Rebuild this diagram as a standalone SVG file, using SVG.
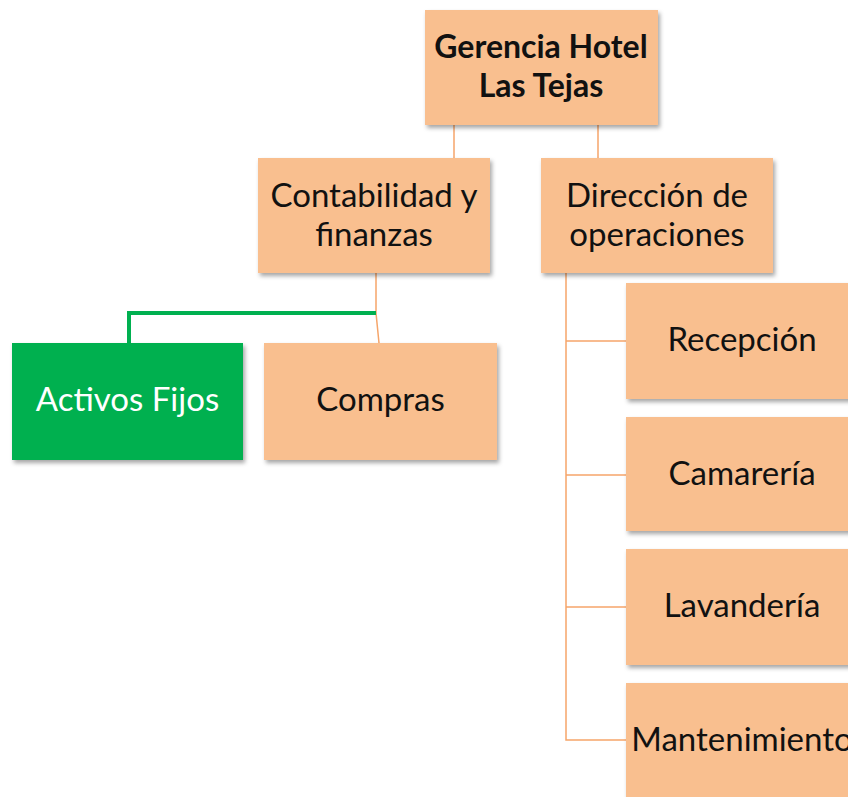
<svg xmlns="http://www.w3.org/2000/svg" width="848" height="797" viewBox="0 0 848 797">
<defs>
<filter id="sh" x="-10%" y="-10%" width="130%" height="130%">
<feDropShadow dx="2" dy="3" stdDeviation="2" flood-color="#000" flood-opacity="0.35"/>
</filter>
<style>
.box{fill:#F9BF8F;filter:url(#sh)}
.green{fill:#00B050;filter:url(#sh)}
.t{font-family:Lato,"Open Sans",sans-serif;font-size:33px;fill:#111;text-anchor:middle}
.tb{font-weight:bold;font-size:32px}
.tw{fill:#fff}
.c{fill:none;stroke:#F6A56A;stroke-width:1.5}
.cg{fill:none;stroke:#00B050;stroke-width:4}
</style>
</defs>
<rect width="848" height="797" fill="#fff"/>
<g id="connectors">
<line class="c" x1="454" y1="125" x2="454" y2="158"/>
<line class="c" x1="598" y1="125" x2="598" y2="158"/>
<polyline class="c" points="376,273 376,313 379,343"/>
<polyline class="cg" points="376,313 129,313 129,343"/>
<polyline class="c" points="566,273 566,740 626,740"/>
<line class="c" x1="566" y1="341" x2="626" y2="341"/>
<line class="c" x1="566" y1="475" x2="626" y2="475"/>
<line class="c" x1="566" y1="607" x2="626" y2="607"/>
</g>
<g id="gerencia">
<rect class="box" x="425" y="10" width="233" height="115"/>
<text class="t tb" x="541" y="58">Gerencia Hotel</text>
<text class="t tb" x="541" y="97">Las Tejas</text>
</g>
<g id="contabilidad">
<rect class="box" x="258" y="158" width="232" height="115"/>
<text class="t" x="374" y="207">Contabilidad y</text>
<text class="t" x="374" y="246">finanzas</text>
</g>
<g id="direccion">
<rect class="box" x="541" y="158" width="232" height="115"/>
<text class="t" x="657" y="207">Dirección de</text>
<text class="t" x="657" y="246">operaciones</text>
</g>
<g id="activos">
<rect class="green" x="12" y="343" width="231" height="117"/>
<text class="t tw" x="127.5" y="411">Activos Fijos</text>
</g>
<g id="compras">
<rect class="box" x="264" y="343" width="233" height="117"/>
<text class="t" x="380.5" y="411">Compras</text>
</g>
<g id="recepcion">
<rect class="box" x="626" y="283" width="232" height="116"/>
<text class="t" x="742" y="351">Recepción</text>
</g>
<g id="camareria">
<rect class="box" x="626" y="417" width="232" height="114"/>
<text class="t" x="742" y="485">Camarería</text>
</g>
<g id="lavanderia">
<rect class="box" x="626" y="549" width="232" height="116"/>
<text class="t" x="742" y="617">Lavandería</text>
</g>
<g id="mantenimiento">
<rect class="box" x="626" y="683" width="232" height="120"/>
<text class="t" x="742" y="751">Mantenimiento</text>
</g>
</svg>
